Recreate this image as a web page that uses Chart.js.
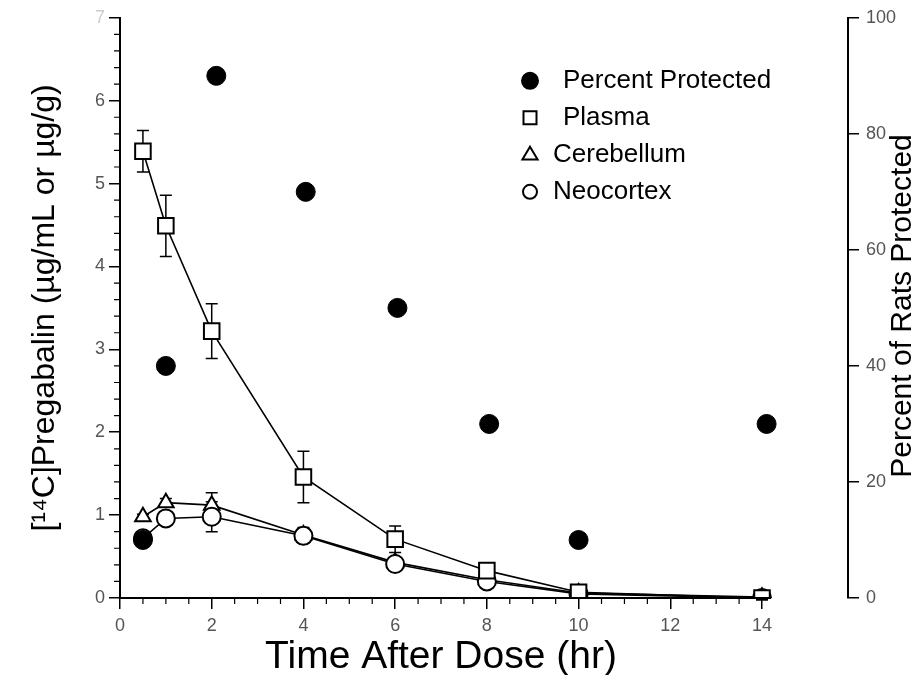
<!DOCTYPE html>
<html>
<head>
<meta charset="utf-8">
<script src="https://cdn.jsdelivr.net/npm/chart.js@4.4.0/dist/chart.umd.min.js"></script>
<style>
  html, body { margin: 0; padding: 0; background: #fff; }
</style>
</head>
<body>
<canvas id="chart" width="920" height="675"></canvas>
<script>
// data
var times = [0.5, 1, 2, 4, 6, 8, 10, 14];
var protectTimes = [0.5, 1, 2.1, 4.05, 6.05, 8.05, 10, 14.1];
var percentProtected = [10, 40, 90, 70, 50, 30, 10, 30];
var plasma = [5.39, 4.49, 3.22, 1.46, 0.71, 0.33, 0.07, 0];
var plasmaSd = [0.25, 0.37, 0.33, 0.31, 0.16, 0.03, 0.02, 0.02];
var cerebellum = [0.98, 1.15, 1.12, 0.76, 0.43, 0.22, 0.06, 0.01];
var cerebellumSd = [0.03, 0.05, 0.15, 0.09, 0.05, 0.03, 0.02, 0.02];
var neocortex = [0.72, 0.96, 0.98, 0.75, 0.41, 0.2, 0.05, 0];
var neocortexSd = [0.03, 0.06, 0.18, 0.08, 0.06, 0.03, 0.02, 0.02];
var legendLabels = ["Percent Protected", "Plasma", "Cerebellum", "Neocortex"];

var FONT = "'Liberation Sans', Arial, sans-serif";

function pts(xs, ys) {
  return xs.map(function (x, i) { return { x: x, y: ys[i] }; });
}

function marker(ctx, style, x, y, r, fill) {
  ctx.beginPath();
  if (style === "circle") {
    ctx.arc(x, y, r, 0, Math.PI * 2);
  } else if (style === "rect") {
    ctx.rect(x - r, y - r, 2 * r, 2 * r);
  } else if (style === "triangle") {
    ctx.moveTo(x, y - r);
    ctx.lineTo(x + r * 0.95, y + r * 0.6);
    ctx.lineTo(x - r * 0.95, y + r * 0.6);
    ctx.closePath();
  }
  ctx.fillStyle = fill;
  ctx.fill();
  ctx.stroke();
}

// error bars, axis line, minor ticks, titles, legend
var extras = {
  id: "extras",
  beforeDatasetsDraw: function (chart) {
    var ctx = chart.ctx, xs = chart.scales.x, ys = chart.scales.y;
    ctx.save();
    ctx.strokeStyle = "#000";
    ctx.lineWidth = 1.5;
    chart.data.datasets.forEach(function (ds) {
      if (!ds.errors) return;
      ds.data.forEach(function (p, i) {
        var e = ds.errors[i];
        var px = xs.getPixelForValue(p.x);
        var top = ys.getPixelForValue(p.y + e), bot = ys.getPixelForValue(p.y - e);
        ctx.beginPath();
        ctx.moveTo(px, top); ctx.lineTo(px, bot);
        ctx.moveTo(px - 6, top); ctx.lineTo(px + 6, top);
        ctx.moveTo(px - 6, bot); ctx.lineTo(px + 6, bot);
        ctx.stroke();
      });
    });
    ctx.restore();
  },
  afterDraw: function (chart) {
    var ctx = chart.ctx, xs = chart.scales.x, ys = chart.scales.y, a = chart.chartArea;
    ctx.save();
    ctx.strokeStyle = "#000";
    ctx.lineWidth = 2;
    // bottom axis line only as far as the data
    ctx.beginPath();
    ctx.moveTo(xs.getPixelForValue(0) - 1, a.bottom);
    ctx.lineTo(xs.getPixelForValue(14.2), a.bottom);
    ctx.stroke();
    // minor ticks
    ctx.lineWidth = 1.2;
    ctx.beginPath();
    for (var v = 0.5; v < 14.01; v += 0.5) {
      if (v % 2 === 0) continue;
      var px = xs.getPixelForValue(v);
      ctx.moveTo(px, a.bottom); ctx.lineTo(px, a.bottom + 6);
    }
    for (var k = 1; k < 35; k++) {
      if (k % 5 === 0) continue;
      var py = ys.getPixelForValue(k * 0.2);
      ctx.moveTo(a.left - 6, py); ctx.lineTo(a.left, py);
    }
    ctx.stroke();

    ctx.fillStyle = "#000";
    ctx.textAlign = "center";
    ctx.textBaseline = "middle";
    // x title centred under the 0-14 axis
    ctx.font = "39px " + FONT;
    ctx.fillText("Time After Dose (hr)", (xs.getPixelForValue(0) + xs.getPixelForValue(14)) / 2, 657);

    // right axis title, reading bottom to top
    ctx.font = "30px " + FONT;
    ctx.translate(903, 306);
    ctx.rotate(-Math.PI / 2);
    ctx.fillText("Percent of Rats Protected", 0, 0);
    ctx.setTransform(1, 0, 0, 1, 0, 0);

    // legend inside the plot
    var styles = ["circle", "rect", "triangle", "circle"];
    var fills = ["#000", "#fff", "#fff", "#fff"];
    var sizes = [8, 6.5, 8, 7];
    var textX = [563, 563, 553, 553];
    ctx.font = "26px " + FONT;
    ctx.textAlign = "left";
    ctx.lineWidth = 2;
    legendLabels.forEach(function (lab, i) {
      var y = a.top + 63 + i * 37;
      marker(ctx, styles[i], a.left + 410, y, sizes[i], fills[i]);
      ctx.fillStyle = "#000";
      ctx.fillText(lab, textX[i], y);
    });
    ctx.restore();
  }
};

var lineStyle = {
  yAxisID: "y",
  borderColor: "#000",
  borderWidth: 1.6,
  pointBackgroundColor: "#fff",
  pointBorderColor: "#000",
  pointBorderWidth: 2,
  tension: 0,
  showLine: true
};

var canvas = document.getElementById("chart");
var config = {
  type: "scatter",
  data: {
    datasets: [
      { label: "Percent Protected", data: pts(protectTimes, percentProtected), yAxisID: "y1",
        pointStyle: "circle", pointRadius: 9.5, backgroundColor: "#000", borderColor: "#000", showLine: false },
      Object.assign({ label: "Plasma", data: pts(times, plasma), errors: plasmaSd,
        pointStyle: "rect", pointRadius: 11 }, lineStyle),
      Object.assign({ label: "Neocortex", data: pts(times, neocortex), errors: neocortexSd,
        pointStyle: "circle", pointRadius: 9 }, lineStyle),
      Object.assign({ label: "Cerebellum", data: pts(times, cerebellum), errors: cerebellumSd,
        pointStyle: "triangle", pointRadius: 9 }, lineStyle)
    ]
  },
  options: {
    responsive: false,
    animation: false,
    layout: { padding: { top: 15 } },
    plugins: { legend: { display: false }, tooltip: { enabled: false } },
    scales: {
      x: {
        type: "linear", min: 0, max: 15.875,
        afterFit: function (s) { s.height = 77; },
        border: { display: false },
        grid: { drawOnChartArea: false, tickLength: 11, color: "#000", lineWidth: 1.5 },
        ticks: { stepSize: 2, includeBounds: false, padding: 6, maxRotation: 0, color: "#555",
                 font: { family: FONT, size: 18 } }
      },
      y: {
        position: "left", min: 0, max: 7,
        afterFit: function (s) { s.width = 120; },
        border: { display: true, color: "#000", width: 2 },
        grid: { drawOnChartArea: false, tickLength: 11, color: "#000", lineWidth: 1.5 },
        ticks: { stepSize: 1, padding: 4, font: { family: FONT, size: 18 },
                 color: function (c) { return c.tick.value === 7 ? "#ccc" : "#555"; } },
        title: { display: true, text: "[\u00b9\u2074C]Pregabalin (\u00b5g/mL or \u00b5g/g)", color: "#000",
                 padding: { top: 26, bottom: 0 }, font: { family: FONT, size: 32 } }
      },
      y1: {
        position: "right", min: 0, max: 100,
        afterFit: function (s) { s.width = 72; },
        border: { display: true, color: "#000", width: 2 },
        grid: { drawOnChartArea: false, tickLength: 11, color: "#000", lineWidth: 1.5 },
        ticks: { stepSize: 20, padding: 7, color: "#555", font: { family: FONT, size: 18 } }
      }
    }
  },
  plugins: [extras]
};

var chart = new Chart(canvas, config);
</script>
</body>
</html>
